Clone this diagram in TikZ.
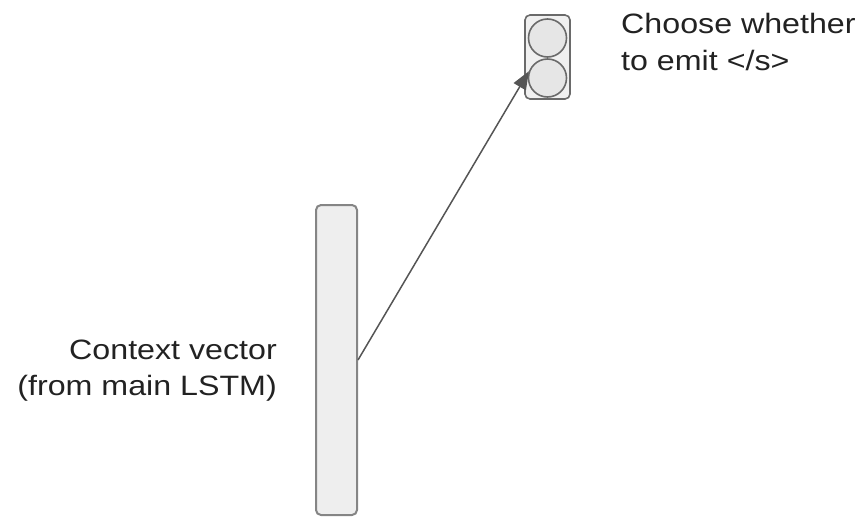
\documentclass[tikz,border=0pt]{standalone}
\usepackage{fontspec}
\setmainfont{Liberation Sans}
\newfontfamily\lblfont[FakeStretch=1.15]{Liberation Sans}
\usetikzlibrary{arrows.meta}
\definecolor{boxfill}{HTML}{EEEEEE}
\definecolor{boxline}{HTML}{858585}
\definecolor{circfill}{HTML}{E6E6E6}
\definecolor{circline}{HTML}{6A6A6A}
\definecolor{arrowcol}{HTML}{555555}
\definecolor{textcol}{HTML}{222222}
\begin{document}
\begin{tikzpicture}[x=1pt,y=-1pt,
  vecbox/.style={draw=boxline,fill=boxfill,line width=2pt,rounded corners=5pt},
  unit/.style={circle,draw=circline,fill=circfill,line width=1.6pt,minimum size=38pt,inner sep=0pt},
  lbl/.style={inner sep=0pt,text=textcol,font=\lblfont\fontsize{28}{36}\selectfont},
  conn/.style={draw=arrowcol,line width=1.5pt,-{Triangle[length=18pt,width=14pt]}}]
\useasboundingbox (0,0) rectangle (867,517);
% context vector
\node[vecbox,minimum width=41pt,minimum height=310pt,inner sep=0pt] (ctx) at (336.5,360) {};
% output box with two units
\node[vecbox,draw=circline,fill=circfill!60,line width=1.6pt,minimum width=45pt,minimum height=84pt,inner sep=0pt] (outbox) at (547.5,57) {};
\node[unit] (c1) at (547.5,38) {};
\node[unit] (c2) at (547.5,78) {};
% connector
\draw[conn] (ctx.east) -- (c2.160);
% labels
\node[lbl,anchor=base west] (t1) at (621,33) {Choose whether};
\node[lbl,anchor=base west] (t2) at (621,70) {to emit \textless/s\textgreater};
\node[lbl,anchor=base east] (t3) at (277,359) {Context vector};
\node[lbl,anchor=base east] (t4) at (277,395) {(from main LSTM)};
\end{tikzpicture}
\end{document}
